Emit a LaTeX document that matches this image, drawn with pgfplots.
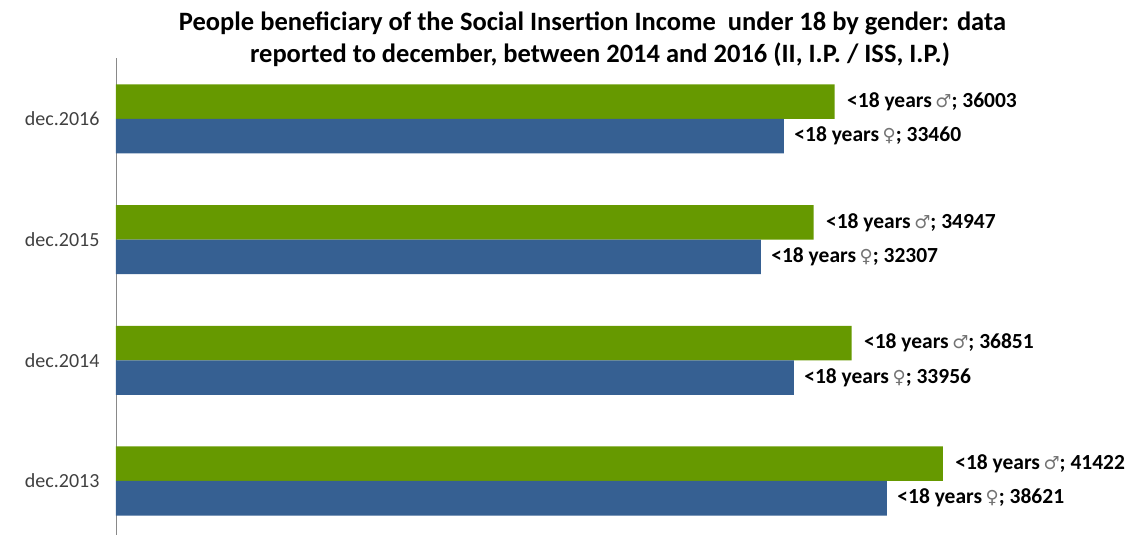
\documentclass[border=0pt]{standalone}
\usepackage{pgfplots}
\pgfplotsset{compat=1.18}
\usepackage{fontspec}
\setmainfont{Carlito}
\newfontfamily\sym{DejaVu Sans}
\definecolor{male}{HTML}{669900}
\definecolor{female}{HTML}{366092}
\definecolor{axisgray}{HTML}{898989}
\definecolor{ticktext}{HTML}{404040}

\newcommand{\msym}{{\sym\fontsize{18}{20}\selectfont\textcolor{black!55}{♂}}}
\newcommand{\fsym}{{\sym\fontsize{18}{20}\selectfont\textcolor{black!55}{♀}}}

\begin{document}
\begin{tikzpicture}[x=1pt,y=1pt]
\path[use as bounding box] (-116,0) rectangle (1014,535);
\node[font=\bfseries\fontsize{26.5}{32}\selectfont, anchor=base] at (476.5,504)
  {People beneficiary of the Social Insertion Income \ under 18 by gender: data};
\node[font=\bfseries\fontsize{26.5}{32}\selectfont, anchor=base] at (484,472)
  {reported to december, between 2014 and 2016 (II, I.P. / ISS, I.P.)};
\begin{axis}[
  at={(0,0)}, anchor=south west,
  scale only axis, width=998pt, height=477pt,
  xbar, bar width=0.286,
  xmin=0, xmax=50000,
  ymin=-0.4475, ymax=3.505,
  hide x axis,
  axis y line*=left,
  y axis line style={draw=axisgray, line width=0.8pt, -},
  ytick={0,1,2,3},
  yticklabels={dec.2013,dec.2014,dec.2015,dec.2016},
  major tick length=0pt,
  yticklabel style={font=\fontsize{20}{24}\selectfont, text=ticktext, xshift=-13pt},
  point meta=explicit symbolic,
  nodes near coords style={anchor=west, font=\bfseries\fontsize{21.5}{25}\selectfont, text=black},
]
\addplot[draw=none, fill=male, bar shift=0.143,
  nodes near coords={<18 years\,\msym; \pgfplotspointmeta},
  nodes near coords style={xshift=9pt}]
  coordinates {(41422,0) [41422] (36851,1) [36851] (34947,2) [34947] (36003,3) [36003]};
\addplot[draw=none, fill=female, bar shift=-0.143,
  nodes near coords={<18 years\,\fsym; \pgfplotspointmeta},
  nodes near coords style={xshift=7pt}]
  coordinates {(38621,0) [38621] (33956,1) [33956] (32307,2) [32307] (33460,3) [33460]};
\end{axis}
\end{tikzpicture}
\end{document}
